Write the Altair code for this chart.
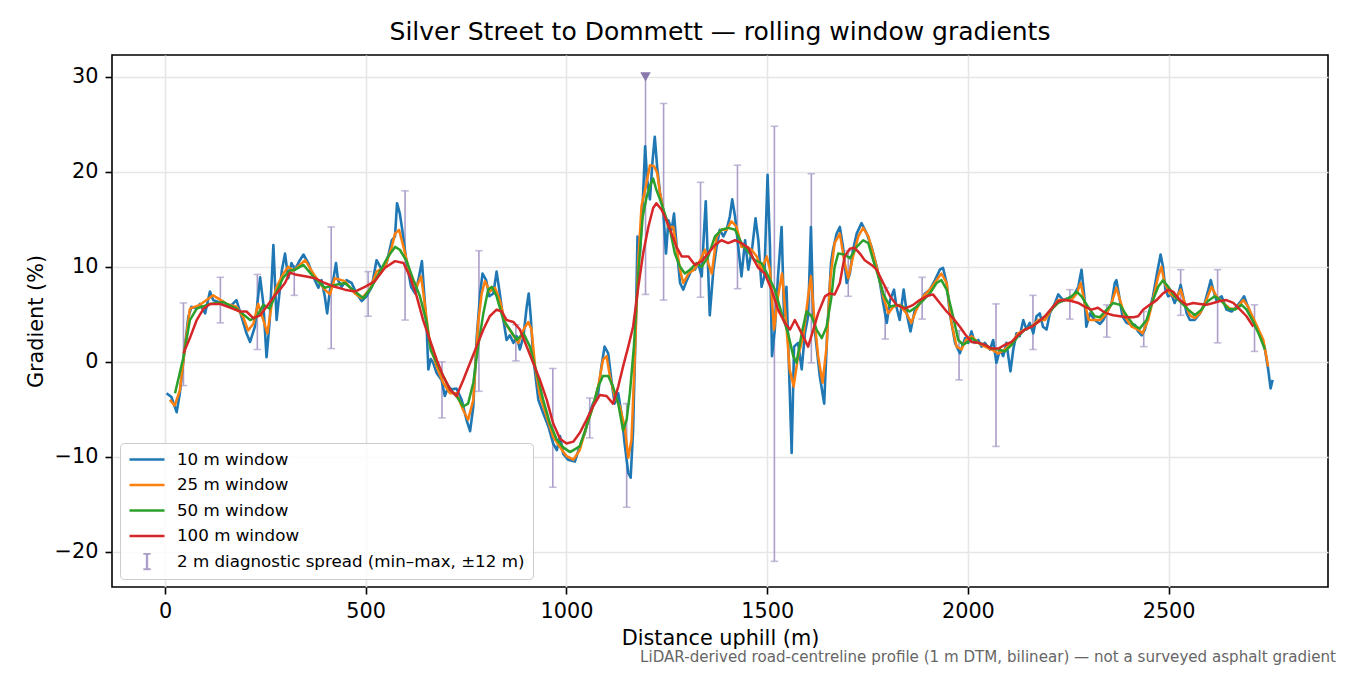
"""
plot.py

Rolling-window gradient profile, Silver Street to Dommett.
"""

import altair as alt
import pandas as pd

# ---------------------------------------------------------------------------
# Data (distance uphill in m, gradient in %)
# ---------------------------------------------------------------------------
W10_DIST = [
    4, 16, 29, 37, 46, 58, 66, 79, 87, 100,
    112, 120, 133, 145, 162, 178, 191, 203, 212, 224,
    237, 245, 253, 261, 270, 278, 291, 299, 307, 315,
    324, 336, 345, 357, 369, 382, 390, 398, 404, 411,
    419, 426, 431, 440, 452, 465, 477, 490, 502, 515,
    527, 540, 552, 565, 573, 578, 585, 591, 602, 613,
    623, 631, 640, 645, 652, 656, 662, 668, 677, 689,
    697, 706, 714, 726, 739, 751, 760, 768, 776, 785,
    791, 800, 808, 818, 826, 834, 843, 851, 859, 868,
    876, 884, 893, 901, 906, 911, 917, 930, 942, 955,
    967, 976, 984, 992, 1004, 1021, 1033, 1046, 1058, 1066,
    1079, 1087, 1095, 1104, 1112, 1120, 1129, 1137, 1145, 1154,
    1160, 1166, 1173, 1177, 1183, 1190, 1196, 1201, 1208, 1214,
    1220, 1226, 1233, 1241, 1248, 1254, 1262, 1268, 1276, 1283,
    1291, 1300, 1312, 1320, 1328, 1337, 1342, 1347, 1353, 1357,
    1366, 1374, 1382, 1391, 1399, 1407, 1413, 1420, 1428, 1436,
    1445, 1453, 1463, 1471, 1478, 1486, 1493, 1501, 1507, 1512,
    1519, 1527, 1536, 1542, 1548, 1554, 1561, 1567, 1577, 1586,
    1594, 1602, 1609, 1615, 1623, 1631, 1642, 1650, 1659, 1664,
    1673, 1681, 1689, 1698, 1706, 1714, 1723, 1735, 1748, 1760,
    1773, 1781, 1789, 1798, 1806, 1816, 1822, 1830, 1840, 1849,
    1857, 1868, 1880, 1893, 1905, 1918, 1930, 1938, 1947, 1955,
    1968, 1980, 1993, 2001, 2009, 2017, 2026, 2034, 2042, 2055,
    2063, 2071, 2080, 2088, 2096, 2106, 2113, 2121, 2129, 2138,
    2146, 2154, 2163, 2171, 2179, 2187, 2196, 2204, 2217, 2225,
    2237, 2250, 2262, 2275, 2283, 2290, 2295, 2304, 2316, 2329,
    2337, 2350, 2358, 2366, 2370, 2377, 2385, 2395, 2408, 2416,
    2424, 2433, 2441, 2449, 2461, 2471, 2480, 2486, 2492, 2499,
    2507, 2515, 2524, 2530, 2536, 2545, 2553, 2565, 2578, 2590,
    2599, 2605, 2611, 2619, 2632, 2644, 2657, 2669, 2682, 2688,
    2694, 2707, 2719, 2731, 2740, 2748, 2754, 2759,
]
W10_GRAD = [
    -3.3, -3.7, -5.3, -3.3, 0.2, 4.7, 5.8, 5.6, 6.1, 5.1,
    7.4, 6.5, 6.3, 6.0, 5.8, 6.5, 4.7, 3.0, 2.1, 3.7,
    8.9, 6.1, 0.5, 4.4, 12.3, 4.4, 9.6, 11.4, 8.8, 10.4,
    9.7, 10.7, 11.3, 10.4, 9.0, 7.8, 8.6, 6.9, 5.1, 7.6,
    8.6, 10.4, 8.6, 7.9, 8.6, 8.3, 7.2, 6.4, 6.9, 7.9,
    10.7, 9.7, 10.4, 12.8, 13.2, 16.7, 15.6, 13.9, 10.4, 7.9,
    7.2, 8.6, 10.6, 7.6, 3.4, -0.8, 0.3, -0.1, -1.2, -1.9,
    -3.6, -2.6, -2.9, -2.8, -4.0, -6.1, -7.3, -4.7, 2.3, 7.2,
    9.3, 8.6, 6.9, 7.2, 9.5, 7.2, 4.4, 2.3, 2.8, 2.0,
    2.7, 1.3, 2.7, 5.8, 7.2, 4.8, 0.6, -4.0, -5.4, -6.8,
    -8.6, -9.3, -7.8, -9.7, -10.3, -10.5, -8.9, -7.5, -5.4, -4.4,
    -3.3, -0.5, 1.6, 0.9, -1.9, -4.4, -3.3, -5.4, -8.6, -11.7,
    -12.2, -7.2, 4.4, 13.2, 11.4, 16.7, 22.7, 19.2, 17.1, 20.9,
    23.7, 20.5, 17.8, 16.0, 11.4, 14.9, 13.9, 15.6, 11.4, 8.3,
    7.6, 8.6, 9.7, 9.7, 10.4, 9.0, 13.2, 16.9, 9.7, 4.9,
    9.7, 12.1, 13.9, 13.2, 13.9, 15.3, 17.1, 15.3, 12.1, 9.0,
    12.8, 9.7, 12.1, 15.1, 12.8, 7.9, 9.0, 19.7, 12.1, 0.6,
    3.4, 9.0, 14.2, 4.8, 7.9, -0.1, -9.6, 1.6, 2.0, -0.8,
    3.0, 4.8, 14.2, 4.8, 1.6, -1.5, -4.4, 3.4, 10.4, 11.8,
    13.5, 14.2, 12.1, 8.3, 9.3, 11.8, 13.5, 14.6, 13.5, 12.1,
    10.0, 8.3, 6.2, 4.1, 6.5, 7.6, 5.8, 4.4, 7.6, 4.8,
    3.2, 5.5, 6.2, 7.2, 7.6, 8.6, 9.7, 9.9, 8.3, 5.1,
    2.0, 0.9, 2.5, 2.0, 3.2, 2.0, 2.3, 1.6, 2.0, 1.3,
    2.3, -0.1, 1.3, 0.6, 2.0, -1.0, 1.3, 3.0, 2.7, 4.4,
    3.4, 4.1, 3.0, 4.8, 5.1, 3.7, 3.4, 5.1, 6.2, 7.1,
    6.5, 6.7, 6.9, 7.9, 9.7, 6.9, 3.7, 5.1, 4.4, 4.0,
    4.4, 5.5, 6.2, 8.3, 8.6, 6.9, 4.8, 4.1, 3.9, 3.9,
    3.2, 2.8, 3.4, 4.8, 6.9, 9.3, 11.3, 10.0, 7.6, 6.9,
    7.1, 6.2, 7.1, 8.1, 6.9, 5.1, 4.4, 4.4, 5.1, 6.2,
    7.6, 8.6, 7.6, 6.5, 6.9, 5.5, 5.3, 5.8, 6.5, 6.9,
    6.2, 4.8, 3.5, 2.7, 1.3, -0.8, -2.8, -1.9,
]

W25_DIST = [
    12, 24, 37, 50, 62, 87, 120, 154, 178, 195,
    207, 220, 232, 245, 255, 266, 278, 295, 307, 320,
    349, 374, 398, 411, 423, 448, 473, 490, 510, 527,
    548, 565, 573, 583, 594, 610, 627, 638, 648, 660,
    677, 693, 710, 726, 743, 755, 768, 780, 789, 797,
    809, 822, 834, 847, 864, 880, 893, 905, 913, 922,
    934, 951, 967, 984, 1000, 1017, 1033, 1050, 1066, 1079,
    1091, 1100, 1108, 1120, 1133, 1145, 1154, 1162, 1170, 1179,
    1187, 1198, 1208, 1218, 1226, 1233, 1241, 1254, 1266, 1274,
    1283, 1291, 1304, 1318, 1333, 1345, 1353, 1362, 1374, 1386,
    1399, 1411, 1424, 1436, 1449, 1461, 1474, 1486, 1499, 1507,
    1517, 1527, 1537, 1546, 1556, 1566, 1577, 1590, 1602, 1609,
    1617, 1627, 1638, 1648, 1657, 1668, 1681, 1693, 1702, 1714,
    1727, 1739, 1752, 1764, 1777, 1789, 1802, 1814, 1830, 1847,
    1859, 1872, 1889, 1905, 1922, 1934, 1947, 1959, 1972, 1984,
    1995, 2009, 2026, 2042, 2059, 2076, 2092, 2109, 2125, 2142,
    2159, 2175, 2192, 2208, 2225, 2242, 2258, 2271, 2281, 2291,
    2301, 2316, 2329, 2346, 2358, 2370, 2379, 2391, 2408, 2424,
    2435, 2449, 2461, 2474, 2482, 2490, 2503, 2519, 2530, 2540,
    2553, 2565, 2578, 2594, 2607, 2619, 2636, 2653, 2669, 2686,
    2698, 2711, 2723, 2736, 2748,
]
W25_GRAD = [
    -4.0, -4.6, -3.0, 1.6, 5.6, 6.0, 7.0, 6.1, 5.8, 4.7,
    3.3, 4.0, 6.1, 4.4, 3.0, 6.1, 7.9, 9.3, 10.0, 9.6,
    10.7, 9.0, 7.6, 7.1, 8.8, 8.5, 7.2, 6.7, 7.6, 9.5,
    10.0, 12.1, 13.5, 13.9, 12.1, 9.3, 7.9, 9.0, 5.8, 1.8,
    -0.5, -2.2, -3.3, -3.3, -5.1, -6.1, -4.0, 4.1, 7.2, 8.5,
    7.4, 7.8, 6.5, 4.1, 3.0, 2.0, 3.4, 4.2, 3.4, -0.5,
    -3.6, -5.8, -7.9, -9.0, -9.9, -10.3, -9.3, -6.8, -4.7, -2.6,
    0.2, 0.6, -1.5, -3.6, -4.7, -6.8, -10.1, -8.2, 0.2, 10.7,
    16.4, 18.5, 20.7, 20.6, 19.9, 17.8, 16.0, 14.2, 14.2, 12.1,
    9.7, 8.3, 9.3, 9.7, 10.7, 11.8, 10.4, 9.3, 13.2, 13.9,
    13.9, 14.8, 14.2, 12.1, 12.1, 11.8, 11.1, 9.7, 11.1, 9.7,
    3.4, 6.9, 9.3, 4.8, -0.8, -2.6, 0.6, 2.7, 6.9, 9.0,
    4.8, 0.6, -2.2, 1.6, 8.6, 12.5, 13.5, 10.4, 8.8, 11.1,
    13.2, 14.1, 13.2, 11.4, 9.3, 6.9, 5.1, 5.8, 6.0, 5.1,
    4.1, 5.5, 6.9, 7.6, 8.6, 9.3, 8.3, 4.1, 1.6, 1.3,
    2.3, 2.7, 2.0, 1.6, 1.3, 0.9, 1.3, 2.0, 3.0, 3.4,
    3.7, 4.4, 4.4, 5.5, 6.5, 6.5, 6.5, 7.2, 8.3, 6.2,
    4.4, 4.4, 4.4, 5.1, 6.2, 7.8, 6.5, 4.8, 3.7, 3.4,
    3.0, 4.4, 6.5, 9.0, 10.0, 8.3, 7.2, 6.7, 7.6, 6.2,
    4.9, 4.6, 5.1, 6.5, 7.9, 6.9, 6.2, 5.6, 5.6, 6.5,
    5.8, 4.6, 3.5, 2.3, -0.5,
]

W50_DIST = [
    25, 46, 62, 79, 112, 145, 178, 212, 228, 245,
    261, 278, 295, 311, 324, 345, 369, 398, 423, 448,
    473, 494, 515, 535, 556, 573, 585, 602, 619, 635,
    652, 662, 677, 693, 710, 726, 743, 755, 768, 780,
    793, 805, 814, 826, 843, 859, 876, 893, 909, 926,
    942, 959, 976, 992, 1009, 1033, 1050, 1066, 1079, 1091,
    1104, 1116, 1129, 1141, 1150, 1158, 1168, 1179, 1190, 1200,
    1208, 1216, 1224, 1233, 1245, 1258, 1270, 1283, 1295, 1308,
    1324, 1337, 1353, 1370, 1386, 1403, 1420, 1436, 1453, 1469,
    1486, 1503, 1519, 1536, 1552, 1565, 1573, 1586, 1598, 1611,
    1623, 1636, 1648, 1660, 1668, 1677, 1693, 1706, 1723, 1739,
    1752, 1764, 1777, 1789, 1806, 1822, 1839, 1855, 1872, 1889,
    1905, 1922, 1934, 1947, 1963, 1976, 1988, 2000, 2009, 2026,
    2042, 2059, 2076, 2092, 2109, 2125, 2142, 2159, 2175, 2192,
    2208, 2225, 2242, 2258, 2271, 2283, 2299, 2316, 2329, 2346,
    2362, 2379, 2395, 2412, 2428, 2445, 2461, 2474, 2486, 2499,
    2515, 2532, 2549, 2565, 2582, 2598, 2615, 2632, 2648, 2665,
    2682, 2694, 2711, 2727, 2740,
]
W50_GRAD = [
    -3.3, 0.5, 4.4, 5.6, 6.1, 6.3, 5.6, 4.4, 4.7, 6.0,
    5.6, 7.4, 8.9, 9.6, 9.7, 10.2, 9.0, 7.8, 8.1, 8.3,
    7.4, 6.7, 7.9, 9.5, 11.1, 12.1, 11.8, 10.6, 8.6, 6.9,
    4.1, 1.2, -0.1, -1.5, -2.9, -3.6, -4.7, -4.4, -2.2, 1.6,
    5.1, 7.6, 7.9, 6.9, 4.4, 3.4, 2.3, 3.0, 1.6, -1.2,
    -4.0, -6.5, -8.2, -9.0, -9.5, -8.9, -6.8, -4.7, -2.6, -1.5,
    -1.5, -2.6, -4.4, -7.2, -6.1, -3.3, 1.6, 9.3, 15.3, 17.4,
    18.5, 19.3, 18.1, 17.1, 15.6, 13.9, 11.4, 10.0, 9.3, 9.7,
    10.4, 10.0, 11.1, 13.2, 13.9, 14.1, 13.9, 12.5, 11.6, 10.7,
    10.4, 9.0, 7.6, 5.1, 3.0, 0.6, -0.1, 3.0, 5.3, 4.8,
    3.4, 2.5, 3.7, 6.8, 10.0, 11.4, 11.3, 10.9, 12.1, 12.8,
    12.5, 10.7, 9.0, 7.2, 5.8, 6.0, 5.8, 5.3, 5.8, 6.5,
    7.2, 8.3, 8.6, 7.6, 4.8, 2.3, 1.8, 2.1, 2.5, 2.0,
    1.8, 1.4, 1.3, 1.1, 1.8, 2.7, 3.4, 3.7, 4.2, 4.8,
    5.5, 6.2, 6.5, 6.9, 7.4, 6.9, 5.8, 4.8, 4.7, 5.5,
    6.2, 6.0, 4.9, 3.9, 3.5, 4.4, 6.5, 7.9, 8.6, 7.9,
    6.9, 6.2, 5.5, 4.9, 5.5, 6.4, 6.9, 6.4, 5.6, 5.5,
    6.0, 5.5, 4.2, 2.7, 1.3,
]

W100_DIST = [
    46, 62, 79, 96, 112, 137, 162, 187, 203, 220,
    237, 253, 270, 286, 299, 311, 324, 349, 374, 398,
    423, 448, 473, 498, 523, 548, 573, 594, 610, 627,
    643, 660, 677, 693, 710, 726, 743, 760, 776, 793,
    809, 826, 839, 851, 868, 884, 901, 917, 934, 951,
    967, 984, 1000, 1017, 1033, 1050, 1066, 1083, 1100, 1116,
    1129, 1141, 1154, 1166, 1179, 1191, 1204, 1216, 1224, 1237,
    1249, 1262, 1274, 1287, 1304, 1320, 1337, 1353, 1370, 1386,
    1403, 1420, 1436, 1453, 1465, 1478, 1494, 1511, 1527, 1544,
    1557, 1569, 1586, 1602, 1615, 1627, 1644, 1656, 1668, 1681,
    1693, 1706, 1718, 1731, 1743, 1760, 1773, 1789, 1806, 1822,
    1843, 1864, 1880, 1897, 1913, 1930, 1947, 1963, 1980, 1993,
    2009, 2026, 2042, 2059, 2076, 2092, 2109, 2125, 2142, 2159,
    2175, 2192, 2208, 2225, 2242, 2258, 2275, 2291, 2308, 2324,
    2337, 2346, 2362, 2379, 2395, 2412, 2424, 2437, 2453, 2470,
    2486, 2499, 2511, 2528, 2544, 2561, 2578, 2594, 2611, 2628,
    2644, 2661, 2678, 2694, 2711,
]
W100_GRAD = [
    0.9, 2.5, 4.4, 5.6, 6.1, 6.1, 5.7, 5.3, 5.3, 4.6,
    4.9, 5.8, 6.8, 7.6, 8.3, 9.4, 9.2, 9.0, 8.8, 8.3,
    7.9, 7.6, 7.4, 7.9, 8.5, 9.9, 10.6, 10.4, 9.0, 6.9,
    4.4, 2.3, 0.2, -1.5, -2.9, -3.6, -1.9, -0.1, 1.6, 3.4,
    4.8, 5.5, 5.3, 4.4, 4.2, 3.4, 1.6, -0.1, -1.9, -4.0,
    -6.5, -8.1, -8.6, -8.4, -7.5, -6.1, -4.7, -3.5, -3.6, -4.4,
    -2.6, -0.5, 1.6, 3.7, 7.9, 11.4, 14.2, 16.2, 16.7, 16.0,
    14.9, 13.5, 12.1, 11.1, 11.1, 10.2, 10.6, 11.4, 12.3, 12.8,
    12.5, 12.8, 12.5, 12.0, 10.9, 9.9, 9.3, 7.6, 5.5, 4.1,
    3.4, 4.4, 3.0, 1.6, 3.4, 5.1, 6.9, 7.2, 7.1, 8.3,
    11.1, 11.9, 12.0, 11.4, 10.7, 10.2, 9.7, 8.3, 6.9, 6.0,
    5.6, 6.0, 6.5, 6.9, 7.1, 6.2, 5.3, 4.6, 3.7, 2.9,
    2.1, 2.0, 1.8, 1.4, 1.4, 1.8, 2.1, 2.8, 3.4, 3.7,
    4.2, 4.8, 5.6, 6.4, 6.5, 6.4, 6.2, 5.8, 5.5, 5.7,
    5.3, 5.1, 4.9, 4.8, 4.7, 4.7, 4.8, 5.5, 6.0, 6.5,
    7.2, 7.6, 7.4, 6.5, 6.0, 6.2, 6.1, 6.0, 6.2, 6.4,
    6.5, 6.2, 5.5, 4.8, 3.7,
]

# 2 m diagnostic spread (min-max within +-12 m)
SPREAD_DIST = [46, 138, 230, 322, 414, 506, 598, 690, 782, 874,
               966, 1058, 1150, 1197, 1242, 1334, 1426, 1518, 1610, 1702,
               1794, 1886, 1978, 2070, 2162, 2254, 2346, 2438, 2530, 2622,
               2714]
SPREAD_MIN = [-2.5, 4.1, 1.3, 7.0, 1.4, 4.8, 4.4, -5.9, -3.1, 0.1,
              -13.2, -8.0, -15.3, 7.1, 6.5, 6.8, 7.7, -21.0, -0.1, 6.9,
              2.4, 4.5, -1.9, -8.9, 1.3, 4.5, 2.6, 1.6, 4.9, 2.0,
              1.1]
SPREAD_MAX = [6.2, 8.9, 9.2, 10.1, 14.2, 9.5, 18.0, 0.0, 11.7, 3.9,
              -0.7, -3.8, -4.4, 30.0, 27.2, 18.9, 20.7, 24.8, 19.8, 11.7,
              7.8, 8.9, 3.3, 6.1, 7.0, 7.6, 6.0, 5.3, 9.7, 9.7,
              6.0]

# spread maxima that run off the top of the axis
CLIP_DIST = [1197]
CLIP_GRAD = [30.0]

SERIES = ["10 m window", "25 m window", "50 m window", "100 m window",
          "2 m diagnostic spread (min–max, ±12 m)"]
COLOURS = ["#1f77b4", "#ff7f0e", "#2ca02c", "#d62728", "#ab9ec9"]
MARKER_COLOUR = "#8878ad"

TITLE = "Silver Street to Dommett — rolling window gradients"
FOOTNOTE = ("LiDAR-derived road-centreline profile (1 m DTM, bilinear) "
            "— not a surveyed asphalt gradient")

FONT = "DejaVu Sans"
PLOT_W, PLOT_H = 1216, 532

# ---------------------------------------------------------------------------
# Shared scales / encodings
# ---------------------------------------------------------------------------
x_scale = alt.Scale(domain=[-132, 2897], nice=False, zero=False)
y_scale = alt.Scale(domain=[-23.7, 32.3], nice=False, zero=False)
x_axis = alt.Axis(values=[0, 500, 1000, 1500, 2000, 2500], format="d",
                  title="Distance uphill (m)")
y_axis = alt.Axis(values=[-20, -10, 0, 10, 20, 30], format="d",
                  labelExpr="replace(datum.label, '-', '\u2212')",
                  title="Gradient (%)")

# legend glyphs: a short stroke for the lines, an I-beam for the spread
I_BEAM = "M0,-0.46L0,0.46M-0.21,-0.46L0.21,-0.46M-0.21,0.46L0.21,0.46"
SHAPES = ["stroke", "stroke", "stroke", "stroke", I_BEAM]

legend = alt.Legend(
    title=None, orient="bottom-left", offset=8,
    fillColor="rgba(255,255,255,0.8)", strokeColor="#cccccc", cornerRadius=4,
    padding=8, rowPadding=7.5, clipHeight=17,
    labelFontSize=16.7, labelColor="black",
    labelFont=FONT, labelLimit=600, labelOffset=11,
    symbolSize=1225, symbolStrokeWidth=2.4, symbolOpacity=1,
)
colour = alt.Color("series:N", scale=alt.Scale(domain=SERIES, range=COLOURS),
                   legend=legend)
shape = alt.Shape("series:N", scale=alt.Scale(domain=SERIES, range=SHAPES),
                  legend=legend)


def build_line(dist, grad, name, width):
    """One rolling-window series as its own layer (keeps draw order)."""
    assert len(dist) == len(grad), name
    df = pd.DataFrame({"dist": dist, "grad": grad, "series": name})
    return (
        alt.Chart(df)
        .mark_line(strokeWidth=width, strokeJoin="round")
        .encode(
            x=alt.X("dist:Q", scale=x_scale, axis=x_axis),
            y=alt.Y("grad:Q", scale=y_scale, axis=y_axis),
            color=colour,
        )
    )


spread_df = pd.DataFrame({"dist": SPREAD_DIST, "lo": SPREAD_MIN, "hi": SPREAD_MAX})

spread_bars = (
    alt.Chart(spread_df)
    .mark_rule(color=COLOURS[4], strokeWidth=1.6)
    .encode(
        x=alt.X("dist:Q", scale=x_scale, axis=x_axis),
        y=alt.Y("lo:Q", scale=y_scale, axis=y_axis),
        y2="hi:Q",
    )
)

cap_rows = []
for d, lo, hi in zip(SPREAD_DIST, SPREAD_MIN, SPREAD_MAX):
    cap_rows.append({"dist": d, "grad": lo})
    if d not in CLIP_DIST:
        cap_rows.append({"dist": d, "grad": hi})

spread_caps = (
    alt.Chart(pd.DataFrame(cap_rows))
    .mark_tick(orient="horizontal", size=7.5, thickness=1.6, color=COLOURS[4])
    .encode(
        x=alt.X("dist:Q", scale=x_scale, axis=x_axis),
        y=alt.Y("grad:Q", scale=y_scale, axis=y_axis),
    )
)

# empty point layer: only there so the legend picks up per-entry glyph shapes
legend_keys = (
    alt.Chart(pd.DataFrame({"dist": pd.Series([], dtype=float),
                            "grad": pd.Series([], dtype=float),
                            "series": pd.Series([], dtype=str)}))
    .mark_point(filled=False, opacity=1)
    .encode(
        x=alt.X("dist:Q", scale=x_scale, axis=x_axis),
        y=alt.Y("grad:Q", scale=y_scale, axis=y_axis),
        color=colour,
        shape=shape,
    )
)

clip_marker = (
    alt.Chart(pd.DataFrame({"dist": CLIP_DIST, "grad": CLIP_GRAD}))
    .mark_point(shape="triangle-down", filled=True, size=110,
                color=MARKER_COLOUR, opacity=1)
    .encode(
        x=alt.X("dist:Q", scale=x_scale, axis=x_axis),
        y=alt.Y("grad:Q", scale=y_scale, axis=y_axis),
    )
)

footnote = (
    alt.Chart(pd.DataFrame({"note": [FOOTNOTE]}))
    .mark_text(align="right", baseline="middle", fontSize=15.1,
               color="#666666", font=FONT)
    .encode(x=alt.value(PLOT_W + 8), y=alt.value(PLOT_H + 70), text="note:N")
)

chart = (
    alt.layer(
        spread_bars,
        spread_caps,
        build_line(W10_DIST, W10_GRAD, SERIES[0], 2.6),
        build_line(W25_DIST, W25_GRAD, SERIES[1], 2.5),
        build_line(W50_DIST, W50_GRAD, SERIES[2], 2.5),
        build_line(W100_DIST, W100_GRAD, SERIES[3], 2.5),
        legend_keys,
        clip_marker,
        footnote,
    )
    .properties(
        width=PLOT_W,
        height=PLOT_H,
        title=alt.TitleParams(TITLE, fontSize=25, fontWeight="normal",
                              anchor="middle", offset=10, color="black",
                              font=FONT),
        autosize=alt.AutoSizeParams(type="none"),
        padding={"left": 104, "top": 47, "right": 14, "bottom": 80},
        background="white",
    )
    .configure(font=FONT)
    .configure_view(stroke="black", strokeWidth=1.6)
    .configure_axis(
        labelFont=FONT, titleFont=FONT,
        labelFontSize=20.8, titleFontSize=20.8, titleFontWeight="normal",
        labelColor="black", titleColor="black",
        tickColor="black", tickSize=7, tickWidth=1.6,
        labelPadding=7, titlePadding=8,
        gridColor="#e6e6e6", gridWidth=1.6,
        domain=False,
    )
)

chart.save("out.html", embed_options={"renderer": "svg", "actions": False})
